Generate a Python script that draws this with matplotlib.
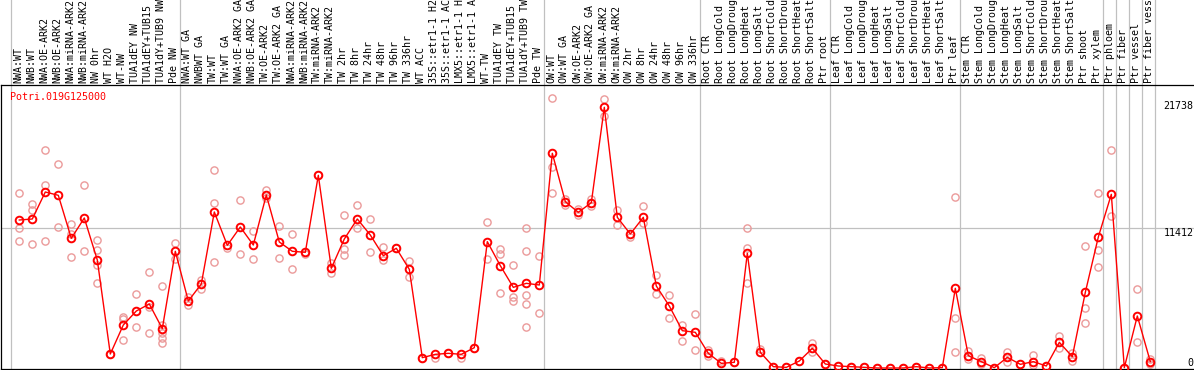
import numpy as np
import matplotlib
matplotlib.use("Agg")
import matplotlib.pyplot as plt
import matplotlib.transforms as mtransforms

gene = "Potri.019G125000"

categories = [
    "NWA:WT", "NWB:WT", "NWA:OE-ARK2", "NWB:OE-ARK2", "NWA:miRNA-ARK2", "NWB:miRNA-ARK2",
    "NW 0hr", "WT H2O", "WT-NW", "TUA1dEY NW", "TUA1dEY+TUB15 NW", "TUA1dY+TUB9 NW", "Pde NW",
    "NWA:WT GA", "NWBWT GA", "TW:WT", "TW:WT GA", "NWA:OE-ARK2 GA", "NWB:OE-ARK2 GA",
    "TW:OE-ARK2", "TW:OE-ARK2 GA", "NWA:miRNA-ARK2", "NWB:miRNA-ARK2", "TW:miRNA-ARK2",
    "TW:miRNA-ARK2", "TW 2hr", "TW 8hr", "TW 24hr", "TW 48hr", "TW 96hr", "TW 336hr",
    "WT ACC", "35S::etr1-1 H2O", "35S::etr1-1 ACC", "LMX5::etr1-1 H2O", "LMX5::etr1-1 ACC",
    "WT-TW", "TUA1dEY TW", "TUA1dEY+TUB15 TW", "TUA1dY+TUB9 TW", "Pde TW",
    "OW:WT", "OW:WT GA", "OW:OE-ARK2", "OW:OE-ARK2 GA", "OW:miRNA-ARK2", "OW:miRNA-ARK2",
    "OW 2hr", "OW 8hr", "OW 24hr", "OW 48hr", "OW 96hr", "OW 336hr",
    "Root CTR", "Root LongCold", "Root LongDrought", "Root LongHeat", "Root LongSalt",
    "Root ShortCold", "Root ShortDrought", "Root ShortHeat", "Root ShortSalt", "Ptr root",
    "Leaf CTR", "Leaf LongCold", "Leaf LongDrought", "Leaf LongHeat", "Leaf LongSalt",
    "Leaf ShortCold", "Leaf ShortDrought", "Leaf ShortHeat", "Leaf ShortSalt", "Ptr leaf",
    "Stem CTR", "Stem LongCold", "Stem LongDrought", "Stem LongHeat", "Stem LongSalt",
    "Stem ShortCold", "Stem ShortDrought", "Stem ShortHeat", "Stem ShortSalt", "Ptr shoot",
    "Ptr xylem", "Ptr phloem", "Ptr fiber", "Ptr vessel", "Ptr fiber vessel",
]

means = [
    12062, 12143, 14344, 14074, 10570, 12225, 8802, 1141, 3504, 4645, 5216, 3206, 9511,
    5460, 6846, 12714, 9998, 11491, 10024, 14099, 10269, 9511, 9429, 15704, 8125, 10513,
    12143, 10839, 9153, 9755, 8041, 842, 1114, 1196, 1114, 1657, 10296, 8340, 6573, 6899, 6764,
    17498, 13556, 12687, 13474, 21247, 12280, 10921, 12280, 6683, 5053, 3042, 2908,
    1196, 380, 462, 9348, 1277, 109, 54, 570, 1603, 326,
    163, 109, 54, 0, 0, 0, 109, 0, 30, 6492,
    1005, 516, 27, 869, 299, 516, 163, 2092, 924, 6166, 10676,
    14153, 27, 4238, 516,
]

replicates = [
    [14238, 11434, 10350], [13366, 12877, 10106], [17767, 14914, 10350], [16626, 11491],
    [11736, 10920, 9046], [14914, 9511], [10404, 9617, 8394, 6952], [1141],
    [4181, 3969, 2282], [6031, 3317], [7824, 4998, 2826], [6683, 3477, 2826, 2418, 2011],
    [10160, 8856],
    [5813, 5134], [7172, 6438], [16137, 13420, 8639], [9755], [13692, 9291], [11165, 8856],
    [14507, 13828], [11573, 8938], [10920, 8041], [9266], [15704], [8532, 7717],
    [12444, 9673, 9234], [13258, 11410], [12143, 9429], [9836, 8802], [9755], [8747, 7390],
    [842], [788], [1196], [842], [1657], [11872, 8856], [9699, 9266, 6080],
    [8369, 5759, 5488], [11383, 9564, 5921, 5216, 3317], [9128, 4456],
    [21980, 16357, 14238], [13746, 13311], [12958, 12444], [13801, 13230], [21923, 20538],
    [12877, 11654], [10700], [13203, 11842], [7579, 6031], [5949, 4050], [3531, 2173],
    [4374, 1467],
    [1467, 978], [598], [462], [11410, 9780, 6952], [1522], [109], [54], [570],
    [2065, 1331], [326],
    [163], [109], [54], [0], [0], [0], [109], [0], [30], [13909, 4103, 1331],
    [1413, 761], [842, 326], [27], [1331, 516], [299], [1059, 217], [163], [2608, 1603],
    [1196, 598], [9943, 4863, 3640], [14238, 9591, 8203],
    [17738, 12388], [27], [6410, 2146], [706, 299],
]

group_starts = [0, 13, 41, 53, 63, 73, 84, 85, 86, 87, 88]
y_ticks = [21738, 11412, 0]

fig = plt.figure(figsize=(11.94, 3.70), dpi=100)
ax = fig.add_axes([1 / 1194, 1 / 370, 1193 / 1194, 284 / 370])

x = np.arange(len(categories))

# replicate points
for i, reps in enumerate(replicates):
    ax.plot([i] * len(reps), reps, linestyle="none", marker="o", ms=5.2,
            mfc="none", mec="#eb9a9a", mew=1.0, zorder=2)

ax.plot(x, means, color="#ff0000", lw=1.0, marker="o", ms=5.5,
        mfc="none", mec="#ff0000", mew=1.4, zorder=3)

ax.set_xlim(-1.408, 90.36)
ax.set_ylim(-81.5, 23064)

ax.axhline(11412, color="#c0c0c0", lw=0.9, zorder=1)
top_ext = 1 + 85 / 284
for g in group_starts:
    ax.axvline(g - 0.64, ymin=0, ymax=top_ext, color="#c0c0c0", lw=0.9,
               zorder=1, clip_on=False)

for s in ["right"]:
    ax.spines[s].set_visible(False)
for s in ["top", "bottom", "left"]:
    ax.spines[s].set_color("black")
    ax.spines[s].set_linewidth(0.9)
ax.set_xticks([])
ax.set_yticks([])

trans = mtransforms.blended_transform_factory(ax.transData, ax.transAxes)
for i, lab in enumerate(categories):
    ax.text(i - 0.1, 1.007, lab, rotation=90, ha="center", va="bottom",
            transform=trans, fontsize=7.2, family="DejaVu Sans Mono", clip_on=False)

ytrans = mtransforms.blended_transform_factory(ax.transAxes, ax.transData)
for v in y_ticks:
    ax.text(0.9995, v, str(v), ha="right", va="bottom" if v == 0 else "top",
            transform=ytrans, fontsize=7.2, family="DejaVu Sans Mono")

ax.text(9 / 1193, 1 - 12 / 284, gene, color="#ff0000", ha="left", va="center",
        transform=ax.transAxes, fontsize=7.2, family="DejaVu Sans Mono")

fig.savefig("out.png", dpi=100)
